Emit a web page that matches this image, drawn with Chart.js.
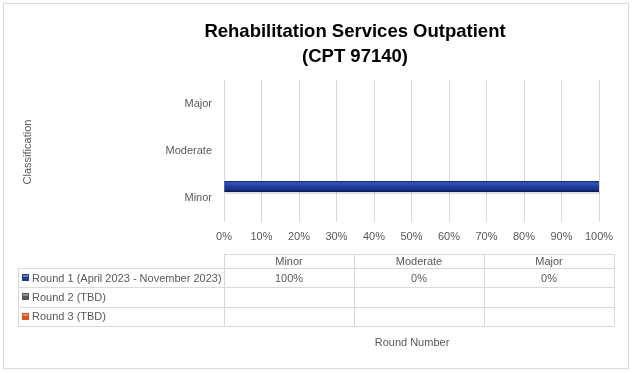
<!DOCTYPE html>
<html>
<head>
<meta charset="utf-8">
<script src="https://cdn.jsdelivr.net/npm/chart.js@4.4.1/dist/chart.umd.min.js"></script>
<style>
  html, body { margin: 0; padding: 0; background: #fff; }
  #wrap { width: 634px; height: 374px; }
</style>
</head>
<body>
<div id="wrap"><canvas id="rehabChart" width="634" height="374"></canvas></div>
<script>
// chart data
const categories = ['Minor', 'Moderate', 'Major'];
const round1 = [100, 0, 0];
const round2 = [null, null, null];
const round3 = [null, null, null];
const seriesNames = ['Round 1 (April 2023 - November 2023)', 'Round 2 (TBD)', 'Round 3 (TBD)'];
const seriesColors = ['#1f3a93', '#595959', '#d9531e'];
const xTickLabels = ['0%', '10%', '20%', '30%', '40%', '50%', '60%', '70%', '80%', '90%', '100%'];
const titleLines = ['Rehabilitation Services Outpatient', '(CPT 97140)'];
const yAxisTitle = 'Classification';
const xAxisTitle = 'Round Number';

const textGrey = '#595959';
const lineGrey = '#d9d9d9';
const fontName = "'Liberation Sans', Arial, sans-serif";

// gives the round 1 bar its shaded, tube-like look
const barShade = {
  id: 'barShade',
  afterDatasetsDraw(chart) {
    const ctx = chart.ctx;
    const meta = chart.getDatasetMeta(0);
    meta.data.forEach((bar) => {
      const p = bar.getProps(['x', 'y', 'base', 'height'], true);
      const w = p.x - p.base;
      if (w <= 0) return;
      const top = p.y - p.height / 2;
      ctx.save();
      // soft shadow underneath
      ctx.fillStyle = 'rgba(0,0,0,0.12)';
      ctx.fillRect(p.base + 1, top + p.height, w, 2);
      const g = ctx.createLinearGradient(0, top, 0, top + p.height);
      g.addColorStop(0, '#14267a');
      g.addColorStop(0.18, '#3553b6');
      g.addColorStop(0.45, '#2441a2');
      g.addColorStop(0.8, '#182e84');
      g.addColorStop(1, '#0b174e');
      ctx.fillStyle = g;
      ctx.fillRect(p.base, top, w, p.height);
      ctx.restore();
    });
  }
};

// title, axis titles, data table and the outer frame, like the Excel chart
const excelBits = {
  id: 'excelBits',
  afterDraw(chart) {
    const ctx = chart.ctx;
    const area = chart.chartArea;
    ctx.save();

    // outer frame
    ctx.strokeStyle = lineGrey;
    ctx.lineWidth = 1;
    ctx.strokeRect(3.5, 3.5, 625, 365);

    // title
    ctx.fillStyle = '#000';
    ctx.font = 'bold 18.5px ' + fontName;
    ctx.textAlign = 'center';
    ctx.textBaseline = 'alphabetic';
    ctx.fillText(titleLines[0], 355, 37);
    ctx.fillText(titleLines[1], 355, 62);

    // y axis title
    ctx.fillStyle = textGrey;
    ctx.font = '11px ' + fontName;
    ctx.save();
    ctx.translate(28, 152);
    ctx.rotate(-Math.PI / 2);
    ctx.textBaseline = 'middle';
    ctx.fillText(yAxisTitle, 0, 0);
    ctx.restore();

    // data table
    const tLeft = area.left;
    const tRight = area.right + 15;
    const legLeft = 18;
    const colW = (tRight - tLeft) / categories.length;
    const headTop = 254, headBot = 268, rowH = 19.3;
    const rows = [round1, round2, round3];
    const tBot = headBot + rowH * rows.length;

    ctx.strokeStyle = lineGrey;
    ctx.beginPath();
    ctx.moveTo(tLeft, headTop + 0.5);
    ctx.lineTo(tRight, headTop + 0.5);
    for (let r = 0; r <= rows.length; r++) {
      const y = Math.round(headBot + rowH * r) + 0.5;
      ctx.moveTo(legLeft, y);
      ctx.lineTo(tRight, y);
    }
    ctx.moveTo(legLeft + 0.5, headBot);
    ctx.lineTo(legLeft + 0.5, tBot);
    for (let c = 0; c <= categories.length; c++) {
      const x = Math.round(tLeft + colW * c) + 0.5;
      ctx.moveTo(x, headTop);
      ctx.lineTo(x, tBot);
    }
    ctx.stroke();

    ctx.fillStyle = textGrey;
    ctx.textAlign = 'center';
    ctx.textBaseline = 'middle';
    categories.forEach((cat, c) => {
      ctx.fillText(cat, tLeft + colW * (c + 0.5), (headTop + headBot) / 2 + 1);
    });

    rows.forEach((vals, r) => {
      const yMid = headBot + rowH * (r + 0.5);
      // legend key
      const k = 7;
      const kx = 22, ky = Math.round(yMid - k / 2);
      ctx.fillStyle = seriesColors[r];
      ctx.fillRect(kx, ky, k, k);
      ctx.fillStyle = 'rgba(255,255,255,0.35)';
      ctx.fillRect(kx + 1, ky + 1, k - 2, 2);
      ctx.fillStyle = textGrey;
      ctx.textAlign = 'left';
      ctx.fillText(seriesNames[r], 32, yMid + 1);
      ctx.textAlign = 'center';
      vals.forEach((v, c) => {
        if (v === null) return;
        ctx.fillText(v + '%', tLeft + colW * (c + 0.5), yMid + 1);
      });
    });

    // x axis title
    ctx.fillText(xAxisTitle, 412, 343);
    ctx.restore();
  }
};

const ctx = document.getElementById('rehabChart').getContext('2d');
const rehabChart = new Chart(ctx, {
  type: 'bar',
  data: {
    labels: categories,
    datasets: [
      { label: seriesNames[0], data: round1, backgroundColor: seriesColors[0] },
      { label: seriesNames[1], data: round2, backgroundColor: seriesColors[1] },
      { label: seriesNames[2], data: round3, backgroundColor: seriesColors[2] }
    ]
  },
  options: {
    indexAxis: 'y',
    responsive: false,
    animation: false,
    categoryPercentage: 0.75,
    barPercentage: 0.93,
    layout: { padding: { top: 80, right: 35, bottom: 0, left: 0 } },
    plugins: {
      legend: { display: false },
      title: { display: false },
      tooltip: { enabled: false }
    },
    scales: {
      x: {
        min: 0,
        max: 100,
        ticks: {
          stepSize: 10,
          padding: 8,
          color: textGrey,
          font: { family: fontName, size: 11 },
          callback: (v, i) => xTickLabels[i]
        },
        grid: { color: lineGrey, drawTicks: false },
        border: { display: false },
        afterFit: (scale) => { scale.height = 152; }
      },
      y: {
        reverse: true,
        ticks: {
          padding: 12,
          color: textGrey,
          font: { family: fontName, size: 11 }
        },
        grid: { display: false, drawTicks: false },
        border: { display: false },
        afterFit: (scale) => { scale.width = 224; }
      }
    }
  },
  plugins: [barShade, excelBits]
});
</script>
</body>
</html>
